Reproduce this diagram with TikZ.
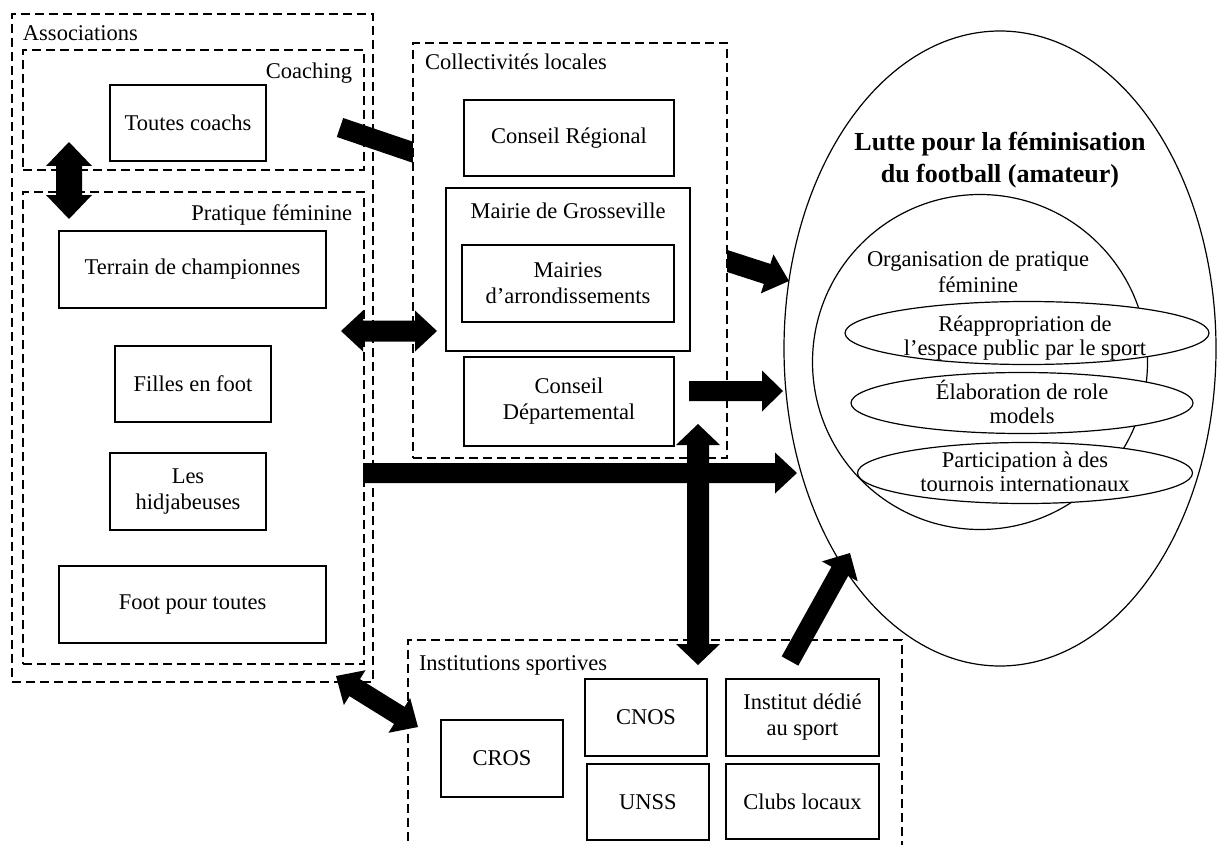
\documentclass[tikz,border=0pt]{standalone}
\usepackage{fontspec}
\setmainfont{Liberation Serif}
\usetikzlibrary{calc,shapes.geometric}

% single-headed fat arrow: #1 start, #2 tip, #3 half shaft, #4 half head, #5 head length
\newcommand{\fatarrow}[5]{%
  \coordinate (faH) at ($(#2)!#5!(#1)$);
  \fill ($(#1)!#3!90:(#2)$) -- ($(faH)!#3!-90:(#1)$) -- ($(faH)!#4!-90:(#1)$) -- (#2)
     -- ($(faH)!#4!90:(#1)$) -- ($(faH)!#3!90:(#1)$) -- ($(#1)!#3!-90:(#2)$) -- cycle;}
% double-headed fat arrow
\newcommand{\fatdarrow}[5]{%
  \coordinate (faH) at ($(#2)!#5!(#1)$);
  \coordinate (faG) at ($(#1)!#5!(#2)$);
  \fill (#1) -- ($(faG)!#4!90:(#2)$) -- ($(faG)!#3!90:(#2)$) -- ($(faH)!#3!-90:(#1)$)
     -- ($(faH)!#4!-90:(#1)$) -- (#2) -- ($(faH)!#4!90:(#1)$) -- ($(faH)!#3!90:(#1)$)
     -- ($(faG)!#3!-90:(#2)$) -- ($(faG)!#4!-90:(#2)$) -- cycle;}

\begin{document}
\begin{tikzpicture}[x=1pt,y=-1pt,
  every node/.style={font=\fontsize{22.5}{26}\selectfont},
  box/.style={draw, line width=1.3pt, inner sep=0pt, outer sep=0pt, align=center},
  grp/.style={draw, dash pattern=on 9pt off 5pt, line width=1.2pt, inner sep=0pt, outer sep=0pt},
  lab/.style={inner sep=0pt, outer sep=0pt},
  oval/.style={draw, ellipse, line width=1.2pt, inner sep=0pt, outer sep=0pt},
  band/.style={line width=20pt}]
\useasboundingbox (0,0) rectangle (1217,845);

% arrows that pass under the Collectivites box
\coordinate (a1s) at (340,127.5);
\coordinate (a1e) at (440,161.5);
\draw[band] (a1s) -- (a1e);
\coordinate (a4s) at (684,247);
\coordinate (a4e) at (789,281);
\fatarrow{a4s}{a4e}{10.5pt}{20.5pt}{23pt}

% Associations
\node[grp, minimum width=361pt, minimum height=668pt] (assoc) at (192.5,348) {};
\node[lab, anchor=base west] (assocl) at (23,41) {Associations};
\node[grp, minimum width=341pt, minimum height=120pt] (coach) at (193.5,110) {};
\node[lab, anchor=base east] (coachl) at (352,79) {Coaching};
\node[box, minimum width=156pt, minimum height=76pt] (toutes) at (188,123) {Toutes coachs};
\node[grp, minimum width=341pt, minimum height=472pt] (prat) at (193.5,428) {};
\node[lab, anchor=base east] (pratl) at (352,220) {Pratique féminine};
\node[box, minimum width=267pt, minimum height=77pt] (terrain) at (192.5,269.5) {Terrain de championnes};
\node[box, minimum width=156pt, minimum height=76pt] (filles) at (193,384) {Filles en foot};
\node[box, minimum width=156pt, minimum height=77pt] (hidja) at (188,491.5) {Les\\hidjabeuses};
\node[box, minimum width=267pt, minimum height=77pt] (footpt) at (192.5,604.5) {Foot pour toutes};

% Collectivites locales
\node[grp, fill=white, minimum width=314pt, minimum height=415pt] (collect) at (570,250.5) {};
\node[lab, anchor=base west] (collectl) at (425,70) {Collectivités locales};
\node[box, minimum width=210pt, minimum height=76pt] (creg) at (569,138) {Conseil Régional};
\node[box, minimum width=244pt, minimum height=163pt] (mairie) at (568,269.5) {};
\node[lab, anchor=base] (mairiel) at (568,218) {Mairie de Grosseville};
\node[box, minimum width=212pt, minimum height=77pt] (mairies) at (568,283.5) {Mairies\\d’arrondissements};
\node[box, minimum width=210pt, minimum height=89pt] (cdep) at (569,401.5) {Conseil\\Départemental};

% Institutions sportives
\node[grp, minimum width=494pt, minimum height=220pt] (instit) at (655,750) {};
\node[lab, anchor=base west] (institl) at (419,670) {Institutions sportives};
\node[box, minimum width=122pt, minimum height=77pt] (cros) at (502,758.5) {CROS};
\node[box, minimum width=122pt, minimum height=77pt] (cnos) at (646,717.5) {CNOS};
\node[box, minimum width=122pt, minimum height=76pt] (unss) at (648,802) {UNSS};
\node[box, minimum width=153pt, minimum height=77pt] (idsport) at (802.5,717.5) {Institut dédié\\au sport};
\node[box, minimum width=153pt, minimum height=75pt] (clubs) at (802.5,801.5) {Clubs locaux};

% Big ellipse
\node[oval, minimum width=432pt, minimum height=635pt] (lutte) at (1000,348.5) {};
\node[lab, align=center, font=\fontsize{26}{32}\selectfont\bfseries] (luttel) at (1000,160) {Lutte pour la féminisation\\du football (amateur)};
\node[oval, minimum width=335pt, minimum height=335pt] (orga) at (980,362) {};
\node[lab, align=center] (orgal) at (978,272) {Organisation de pratique\\féminine};
\node[oval, fill=white, minimum width=364pt, minimum height=63pt] (reap) at (1027,333) {};
\node[lab, align=center, font=\fontsize{22.5}{24.5}\selectfont] (reapl) at (1025,338) {Réappropriation de\\l’espace public par le sport};
\node[oval, fill=white, minimum width=342pt, minimum height=61pt] (elab) at (1022,403) {};
\node[lab, align=center, font=\fontsize{22.5}{24.5}\selectfont] (elabl) at (1022,402) {Élaboration de role\\models};
\node[oval, fill=white, minimum width=335pt, minimum height=61pt] (parti) at (1025,473) {};
\node[lab, align=center, font=\fontsize{22.5}{24.5}\selectfont] (partil) at (1025,472) {Participation à des\\tournois internationaux};

% Arrows on top
\coordinate (a2s) at (69,142);
\coordinate (a2e) at (69,219);
\fatdarrow{a2s}{a2e}{13pt}{23pt}{24pt}
\coordinate (a3s) at (341,331);
\coordinate (a3e) at (437,331);
\fatdarrow{a3s}{a3e}{10.5pt}{20.5pt}{22pt}
\coordinate (a5s) at (689,391);
\coordinate (a5e) at (783,391);
\fatarrow{a5s}{a5e}{10pt}{20.5pt}{21pt}
\coordinate (a6s) at (363,473);
\coordinate (a6e) at (797,473);
\fatarrow{a6s}{a6e}{10pt}{20.5pt}{22pt}
\coordinate (a7s) at (698,424);
\coordinate (a7e) at (698,665);
\fatdarrow{a7s}{a7e}{11pt}{22pt}{21pt}
\coordinate (a8s) at (790,661);
\coordinate (a8e) at (850,553);
\fatarrow{a8s}{a8e}{9.5pt}{20.5pt}{21pt}
\coordinate (a9s) at (336,676);
\coordinate (a9e) at (418,727);
\fatdarrow{a9s}{a9e}{10pt}{20.5pt}{22pt}
\end{tikzpicture}
\end{document}
